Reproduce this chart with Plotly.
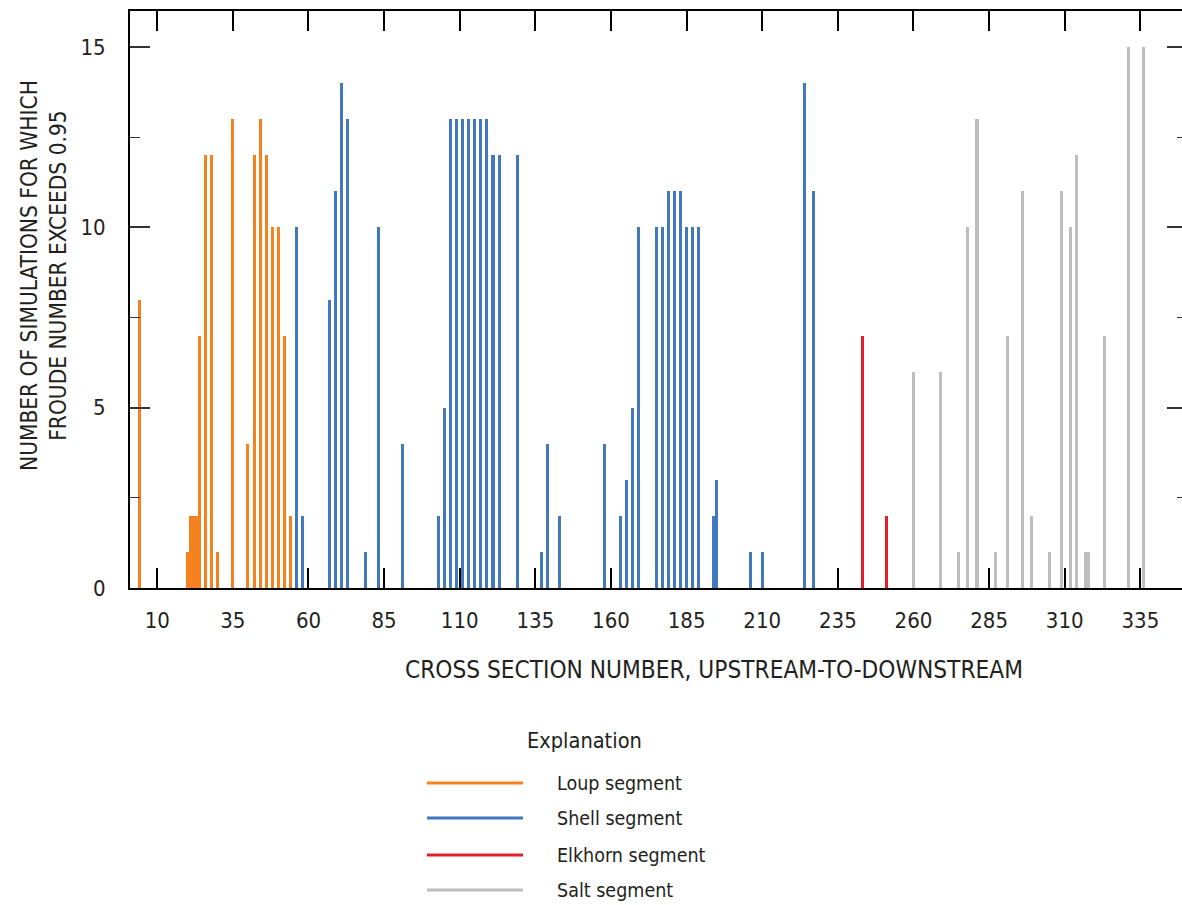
import plotly.graph_objects as go

# ---- data: cross-section number -> number of simulations (Froude > 0.95)
loup_x = [4, 20, 21, 22, 23, 24, 26, 28, 30, 35, 40, 42, 44, 46, 48, 50, 52, 54]
loup_y = [8, 1, 2, 2, 2, 7, 12, 12, 1, 13, 4, 12, 13, 12, 10, 10, 7, 2]

shell_x = [56, 58, 67, 69, 71, 73, 79, 83, 91, 103, 105, 107, 109, 111, 113, 115,
           117, 119, 121, 123, 129, 137, 139, 143, 158, 163, 165, 167, 169, 175,
           177, 179, 181, 183, 185, 187, 189, 194, 195, 206, 210, 224, 227]
shell_y = [10, 2, 8, 11, 14, 13, 1, 10, 4, 2, 5, 13, 13, 13, 13, 13,
           13, 13, 12, 12, 12, 1, 4, 2, 4, 2, 3, 5, 10, 10,
           10, 11, 11, 11, 10, 10, 10, 2, 3, 1, 1, 14, 11]

elkhorn_x = [243, 251]
elkhorn_y = [7, 2]

salt_x = [260, 269, 275, 278, 281, 287, 291, 296, 299, 305, 309, 312, 314, 317,
          318, 323, 331, 336]
salt_y = [6, 6, 1, 10, 13, 1, 7, 11, 2, 1, 11, 10, 12, 1, 1, 7, 15, 15]

series_names = ["Loup segment", "Shell segment", "Elkhorn segment", "Salt segment"]
series_colors = ["#F5821F", "#4178BE", "#E3202A", "#BEBEBE"]

x_ticks = [10, 35, 60, 85, 110, 135, 160, 185, 210, 235, 260, 285, 310, 335]
y_ticks = [0, 5, 10, 15]

FONT = "DejaVu Sans Condensed, sans-serif"
TXT = "#231F20"

fig = go.Figure()
for xs, ys, name, col in zip([loup_x, shell_x, elkhorn_x, salt_x],
                             [loup_y, shell_y, elkhorn_y, salt_y],
                             series_names, series_colors):
    fig.add_trace(go.Bar(x=xs, y=ys, name=name, width=1.0,
                         marker=dict(color=col, line=dict(width=0)),
                         showlegend=False))

# invisible trace to carry the right-hand tick axis
fig.add_trace(go.Scatter(x=[], y=[], yaxis="y2", showlegend=False, hoverinfo="skip"))

W, H = 1182, 905
L, R, T, B = 130, 0, 11, 317
pw, ph = W - L - R, H - T - B


def px(xp):
    return (xp - L) / pw


def py(yp):
    return (H - B - yp) / ph


fig.update_layout(
    width=W, height=H,
    margin=dict(l=L, r=R, t=T, b=B),
    paper_bgcolor="white", plot_bgcolor="white",
    bargap=0, barmode="overlay",
    font=dict(family=FONT, color=TXT, size=22),
    xaxis=dict(range=[1, 1 + pw / 3.025], tickvals=x_ticks,
               ticks="inside", ticklen=20, tickwidth=1.5, tickcolor="#000",
               showline=True, linecolor="#000", linewidth=2, mirror="ticks",
               showgrid=False, zeroline=False, ticklabelstandoff=12,
               layer="below traces",
               tickfont=dict(size=22, family=FONT, color=TXT)),
    yaxis=dict(range=[0, 16], tickvals=y_ticks,
               ticks="inside", ticklen=20, tickwidth=1.5, tickcolor="#333",
               minor=dict(dtick=2.5, ticks="inside", ticklen=10, tickwidth=1.2, tickcolor="#333"),
               showline=True, linecolor="#000", linewidth=2, mirror=False,
               showgrid=False, zeroline=False, ticklabelstandoff=18,
               tickfont=dict(size=22, family=FONT, color=TXT)),
    yaxis2=dict(range=[0, 16], overlaying="y", side="right", anchor="x",
                tickvals=y_ticks, ticks="inside", ticklen=15, tickwidth=1.5, tickcolor="#333",
                minor=dict(dtick=2.5, ticks="inside", ticklen=5, tickwidth=1.2, tickcolor="#333"),
                showline=False, showticklabels=False, showgrid=False, zeroline=False),
)

annotations = [
    dict(x=px(714), y=py(670), text="CROSS SECTION NUMBER, UPSTREAM-TO-DOWNSTREAM",
         font=dict(size=24.2)),
    dict(x=px(43), y=py(276),
         text="NUMBER OF SIMULATIONS FOR WHICH<br>FROUDE NUMBER EXCEEDS 0.95",
         textangle=-90, font=dict(size=22.5)),
    dict(x=px(584), y=py(740), text="Explanation", font=dict(size=21.6)),
]
leg_y = [783, 818, 855, 890]
shapes = []
for name, col, yy in zip(series_names, series_colors, leg_y):
    shapes.append(dict(type="line", xref="paper", yref="paper",
                       x0=px(427), x1=px(523), y0=py(yy), y1=py(yy),
                       line=dict(color=col, width=3)))
    annotations.append(dict(x=px(555), y=py(yy), text=name, xanchor="left",
                            font=dict(size=19.5)))
for a in annotations:
    a.setdefault("xref", "paper")
    a.setdefault("yref", "paper")
    a.setdefault("showarrow", False)
    a.setdefault("xanchor", "center")
    a.setdefault("yanchor", "middle")
fig.update_layout(annotations=annotations, shapes=shapes)

fig.write_html("out.html")
